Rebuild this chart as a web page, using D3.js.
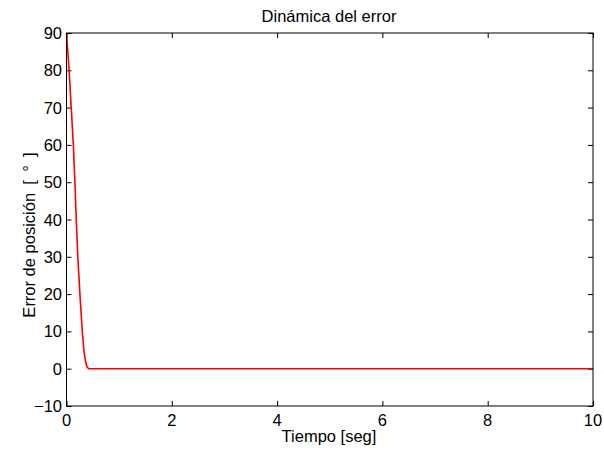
<!DOCTYPE html>
<html>
<head>
<meta charset="UTF-8">
<script src="https://cdn.jsdelivr.net/npm/d3@7"></script>
<style>
  body { margin: 0; background: #fff; }
  text { font-family: "Liberation Sans", Arial, sans-serif; font-size: 16.5px; fill: #000; }
</style>
</head>
<body>
<svg id="chart" width="604" height="450"></svg>
<script>
// tiempo [seg] y error [grados]
const tiempo = [0, 0.05, 0.09, 0.13, 0.16, 0.185, 0.215, 0.255, 0.30, 0.33, 0.36, 0.39, 0.42, 10];
const error  = [90, 80, 70, 60, 50, 40, 30, 20, 10, 5, 2, 0.5, 0, 0];
const xTicks = [0, 2, 4, 6, 8, 10];
const yTicks = [-10, 0, 10, 20, 30, 40, 50, 60, 70, 80, 90];

const svg = d3.select("#chart");
const mLeft = 66.5, mRight = 593, mTop = 33, mBottom = 406;

const x = d3.scaleLinear().domain([0, 10]).range([mLeft, mRight]);
const y = d3.scaleLinear().domain([-10, 90]).range([mBottom, mTop]);

// ticks inward on all four sides (box style)
svg.append("g").attr("transform", `translate(0,${mBottom})`)
  .call(d3.axisTop(x).tickValues(xTicks).tickSize(5).tickFormat(""));
svg.append("g").attr("transform", `translate(0,${mTop})`)
  .call(d3.axisBottom(x).tickValues(xTicks).tickSize(5).tickFormat(""));
svg.append("g").attr("transform", `translate(${mLeft},0)`)
  .call(d3.axisRight(y).tickValues(yTicks).tickSize(5).tickFormat(""));
svg.append("g").attr("transform", `translate(${mRight},0)`)
  .call(d3.axisLeft(y).tickValues(yTicks).tickSize(5).tickFormat(""));
svg.selectAll(".domain").remove();
svg.selectAll(".tick line").attr("stroke", "#000");

// labels
svg.append("g").selectAll("text").data(xTicks).join("text")
  .attr("x", d => x(d)).attr("y", 426)
  .attr("text-anchor", "middle")
  .text(d => d3.format("d")(d));
svg.append("g").selectAll("text").data(yTicks).join("text")
  .attr("x", 62).attr("y", d => y(d) + 6)
  .attr("text-anchor", "end")
  .text(d => d3.format("d")(d));

// curve
const line = d3.line().x((d, i) => x(tiempo[i])).y(d => y(d));
svg.append("path").datum(error)
  .attr("d", line)
  .attr("fill", "none")
  .attr("stroke", "#ff0000")
  .attr("stroke-width", 1.6);

// box
svg.append("rect")
  .attr("x", mLeft).attr("y", mTop)
  .attr("width", mRight - mLeft).attr("height", mBottom - mTop)
  .attr("fill", "none").attr("stroke", "#000").attr("stroke-width", 1);

svg.append("text").attr("x", 329).attr("y", 22)
  .attr("text-anchor", "middle").text("Dinámica del error");
svg.append("text").attr("x", 329).attr("y", 442)
  .attr("text-anchor", "middle").text("Tiempo [seg]");
svg.append("text")
  .attr("transform", "translate(35,235) rotate(-90)")
  .attr("text-anchor", "middle").text("Error de posición\u2002[\u2002°\u2002]");
</script>
</body>
</html>
